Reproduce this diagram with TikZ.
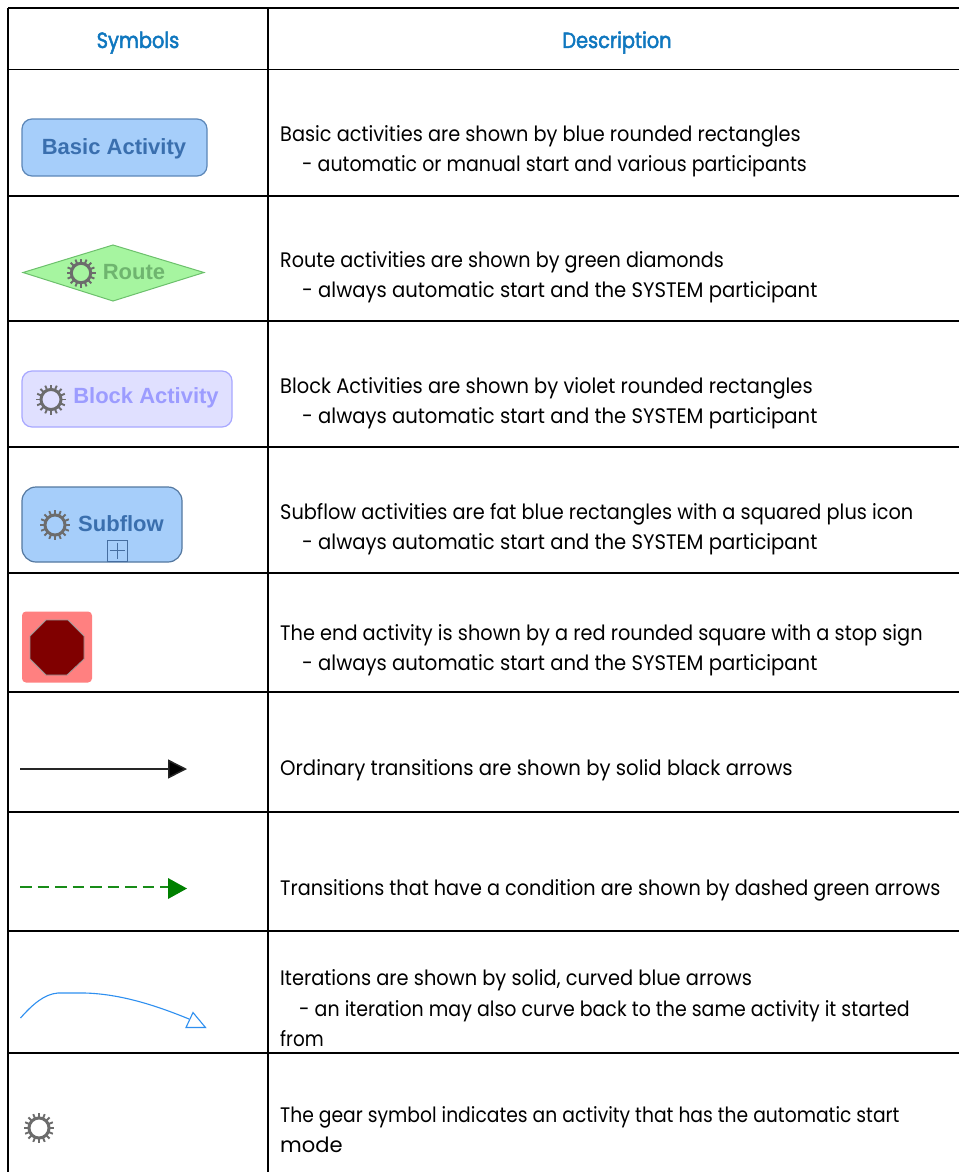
\documentclass[tikz,border=0pt]{standalone}
\usepackage{fontspec}
\usepackage{graphicx}
\setmainfont[FakeStretch=0.92]{Poppins}
\newfontfamily\headfont[FakeStretch=0.88,FakeBold=2.2]{Poppins}
\newfontfamily\symfont{Liberation Sans}
\usetikzlibrary{arrows.meta,calc}
\newcommand{\fitx}[2]{\scalebox{#1}[1]{#2}}
\definecolor{headblue}{HTML}{0F77BF}
\definecolor{gearc}{HTML}{6C6C6C}
\definecolor{bluefill}{RGB}{166,206,250}
\definecolor{bluedraw}{RGB}{92,135,184}
\definecolor{bluetext}{RGB}{58,111,174}
\definecolor{greenfill}{RGB}{166,245,160}
\definecolor{greendraw}{RGB}{108,192,108}
\definecolor{greentext}{RGB}{111,181,111}
\definecolor{violetfill}{RGB}{224,224,255}
\definecolor{violetdraw}{RGB}{168,168,255}
\definecolor{violettext}{RGB}{156,156,255}
\definecolor{subdraw}{RGB}{84,120,160}
\definecolor{plusc}{RGB}{70,110,160}
\definecolor{endfill}{RGB}{255,128,128}
\definecolor{stopfill}{RGB}{128,0,0}
\definecolor{dashgreen}{RGB}{24,140,24}
\definecolor{headgreen}{RGB}{0,128,0}
\definecolor{iterblue}{RGB}{46,143,240}
\tikzset{
  x=1pt,y=-1pt,
  grid/.style={line width=1.6pt,black},
  txt/.style={anchor=base west,inner sep=0pt,font=\fontsize{21}{25}\selectfont,text=black},
  head/.style={anchor=base,inner sep=0pt,font=\fontsize{22}{26}\headfont,text=headblue},
  sym/.style={inner sep=0pt,font=\fontsize{22}{26}\symfont\bfseries},
  gearteeth/.style={line width=1.9pt,gearc},
  gearring/.style={line width=3pt,gearc,fill=#1},
}
% \gearat{x}{y}{radius}{fill}
\newcommand{\gearat}[4]{%
  \foreach \a in {0,22.5,...,337.5}{\draw[gearteeth] ($(#1,#2)+(\a:#3*0.7pt)$) -- ($(#1,#2)+(\a:#3pt)$);}
  \draw[gearring=#4] (#1,#2) circle[radius=#3*0.67pt];
}
\begin{document}
\begin{tikzpicture}
\useasboundingbox (0,0) rectangle (959,1172);
\fill[white] (0,0) rectangle (959,1172);
% table grid
\coordinate (tl) at (8,8); \coordinate (tr) at (959,8);
\coordinate (bl) at (8,1172); \coordinate (cb) at (268,1172); \coordinate (ct) at (268,8);
\draw[grid] (tl) -- (tr);
\draw[grid] (tl) -- (bl);
\draw[grid] (ct) -- (cb);
\foreach \y in {69.7,195.7,320.7,447,573,692,811.7,930.7,1052.7}{\draw[grid] (8,\y) -- (959,\y);}
% headers
\node[head] (h1) at (138,48) {Symbols};
\node[head] (h2) at (617,48) {Description};
% basic
\node[draw=bluedraw,line width=1.2pt,fill=bluefill,rounded corners=10pt,minimum width=185pt,minimum height=57pt,inner sep=0pt] (basic) at (114.5,147.5) {};
\node[sym,text=bluetext] (basict) at (114,149) {Basic Activity};
% route
\coordinate (rl) at (23,272.5); \coordinate (rt) at (113,245); \coordinate (rr) at (204,272.5); \coordinate (rb) at (113,301);
\draw[draw=greendraw,line width=1pt,fill=greenfill] (rl) -- (rt) -- (rr) -- (rb) -- cycle;
\gearat{81}{273}{14.5}{greenfill}
\node[sym,text=greentext] (routet) at (134,272) {Route};
% block
\node[draw=violetdraw,line width=1.2pt,fill=violetfill,rounded corners=10pt,minimum width=210pt,minimum height=56pt,inner sep=0pt] (block) at (127,399) {};
\gearat{51}{399.5}{15}{violetfill}
\node[sym,text=violettext] (blockt) at (146,398) {Block Activity};
% subflow
\node[draw=subdraw,line width=1.2pt,fill=bluefill,rounded corners=14pt,minimum width=160pt,minimum height=75pt,inner sep=0pt] (subflow) at (102,524.5) {};
\gearat{55}{525}{15}{bluefill}
\node[sym,text=bluetext] (subt) at (121,524) {Subflow};
\node[draw=plusc,line width=1pt,minimum width=20pt,minimum height=21pt,inner sep=0pt] (plusbox) at (117,550.5) {};
\draw[plusc,line width=.9pt] ($(plusbox.west)+(3,0)$) -- ($(plusbox.east)+(-3,0)$);
\draw[plusc,line width=.9pt] ($(plusbox.north)+(0,3)$) -- ($(plusbox.south)+(0,-3)$);
% end
\node[fill=endfill,rounded corners=4pt,minimum width=70pt,minimum height=71pt,inner sep=0pt] (endact) at (57,647) {};
\draw[draw=gray!80,line width=.8pt,fill=stopfill] (46,620) -- (68,620) -- (84,636) -- (84,659) -- (67,675) -- (46,675) -- (30,659) -- (30,636) -- cycle;
% ordinary
\coordinate (a1) at (20,769); \coordinate (a2) at (187,769);
\draw[line width=1.5pt,black!85,-{Triangle[length=19pt,width=19pt,fill=black]}] (a1) -- (a2);
% conditional
\coordinate (b1) at (20,887); \coordinate (b2) at (168,887);
\draw[line width=1.4pt,dashgreen,dash pattern=on 11.5pt off 6pt] (b1) -- (b2);
\fill[headgreen] (168,878) -- (187,888.5) -- (168,899) -- cycle;
% iteration
\coordinate (c1) at (20.5,1018); \coordinate (c2) at (189,1019);
\draw[line width=1.1pt,iterblue] (c1) .. controls (32,1005) and (44,994) .. (58,993) -- (85,993) .. controls (120,994) and (155,1005) .. (c2);
\draw[line width=1.1pt,iterblue,fill=white] (193,1012.5) -- (205.5,1027.5) -- (186,1027.5) -- cycle;
% gear
\gearat{39}{1128}{15}{white}
% descriptions
\node[txt] (d1a) at (280,141) {Basic activities are shown by blue rounded rectangles};
\node[txt] (d1b) at (302,171) {\fitx{0.982}{- automatic or manual start and various participants}};
\node[txt] (d2a) at (280,267) {\fitx{0.993}{Route activities are shown by green diamonds}};
\node[txt] (d2b) at (302,297) {\fitx{1.014}{- always automatic start and the SYSTEM participant}};
\node[txt] (d3a) at (280,393) {\fitx{1.006}{Block Activities are shown by violet rounded rectangles}};
\node[txt] (d3b) at (302,423) {\fitx{1.014}{- always automatic start and the SYSTEM participant}};
\node[txt] (d4a) at (280,519) {Subflow activities are fat blue rectangles with a squared plus icon};
\node[txt] (d4b) at (302,549) {\fitx{1.014}{- always automatic start and the SYSTEM participant}};
\node[txt] (d5a) at (280,640) {The end activity is shown by a red rounded square with a stop sign};
\node[txt] (d5b) at (302,670) {\fitx{1.014}{- always automatic start and the SYSTEM participant}};
\node[txt] (d6a) at (280,775) {\fitx{1.018}{Ordinary transitions are shown by solid black arrows}};
\node[txt] (d7a) at (280,895) {\fitx{0.996}{Transitions that have a condition are shown by dashed green arrows}};
\node[txt] (d8a) at (280,985) {\fitx{1.004}{Iterations are shown by solid, curved blue arrows}};
\node[txt] (d8b) at (299,1016) {\fitx{0.982}{- an iteration may also curve back to the same activity it started}};
\node[txt] (d8c) at (280,1046) {\fitx{0.95}{from}};
\node[txt] (d9a) at (280,1122) {\fitx{0.969}{The gear symbol indicates an activity that has the automatic start}};
\node[txt] (d9b) at (280,1152) {\fitx{1.09}{mode}};
\end{tikzpicture}
\end{document}
